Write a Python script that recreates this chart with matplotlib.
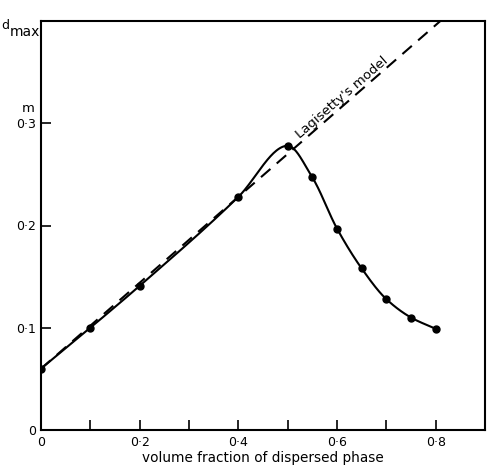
import numpy as np
import matplotlib
matplotlib.use("Agg")
import matplotlib.pyplot as plt

# measured points (volume fraction, d_max in m)
phi = [0.0, 0.1, 0.2, 0.4, 0.5, 0.55, 0.6, 0.65, 0.7, 0.75, 0.8]
dmax = [0.060, 0.100, 0.141, 0.228, 0.278, 0.247, 0.197, 0.158, 0.128, 0.110, 0.099]

# Lagisetty's model line (end points)
model_phi = [0.0, 0.9]
model_d = [0.060, 0.438]

xticks_major = [0.0, 0.2, 0.4, 0.6, 0.8]
xtick_labels = ["0", "0·2", "0·4", "0·6", "0·8"]
xticks_minor = [0.1, 0.3, 0.5, 0.7]
yticks = [0.0, 0.1, 0.2, 0.3]
ytick_labels = ["0", "0·1", "0·2", "0·3"]


def pchip(x, y, n=400):
    # monotone cubic through the points, just for drawing the smooth curve
    x = np.asarray(x, float)
    y = np.asarray(y, float)
    h = np.diff(x)
    d = np.diff(y) / h
    m = np.zeros_like(y)
    for i in range(1, len(x) - 1):
        if d[i - 1] * d[i] > 0:
            w1 = 2 * h[i] + h[i - 1]
            w2 = h[i] + 2 * h[i - 1]
            m[i] = (w1 + w2) / (w1 / d[i - 1] + w2 / d[i])
    m[0] = d[0]
    m[-1] = d[-1]
    xs = np.linspace(x[0], x[-1], n)
    idx = np.clip(np.searchsorted(x, xs) - 1, 0, len(x) - 2)
    hh = h[idx]
    t = (xs - x[idx]) / hh
    h00 = 2 * t ** 3 - 3 * t ** 2 + 1
    h10 = t ** 3 - 2 * t ** 2 + t
    h01 = -2 * t ** 3 + 3 * t ** 2
    h11 = t ** 3 - t ** 2
    ys = h00 * y[idx] + h10 * hh * m[idx] + h01 * y[idx + 1] + h11 * hh * m[idx + 1]
    return xs, ys


fig = plt.figure(figsize=(4.87, 4.70), dpi=100)
ax = fig.add_axes([41 / 487, 40 / 470, 444 / 487, 409 / 470])

xs, ys = pchip(phi, dmax)
ax.plot(xs, ys, color="black", lw=1.5)
ax.plot(phi, dmax, "o", color="black", ms=5)
ax.plot(model_phi, model_d, color="black", lw=1.5, dashes=(6, 4))

ax.set_xlim(0, 0.9)
ax.set_ylim(0, 0.4)

ax.set_xticks(xticks_major)
ax.set_xticklabels(xtick_labels)
ax.set_xticks(xticks_minor, minor=True)
ax.set_yticks(yticks)
ax.set_yticklabels(ytick_labels)
ax.tick_params(which="both", direction="in", length=7, width=1.2, labelsize=9)
ax.tick_params(axis="x", pad=4)
for s in ax.spines.values():
    s.set_linewidth(1.5)

ax.set_xlabel("volume fraction of dispersed phase", fontsize=9.8, labelpad=2)

fig.text(5.5 / 487, 1 - 25.5 / 470, "d", fontsize=9, va="center", ha="center")
fig.text(24.5 / 487, 1 - 32.5 / 470, "max", fontsize=10, va="center", ha="center")
fig.text(28 / 487, 1 - 108.5 / 470, "m", fontsize=9.5, va="center", ha="center")

ax.text(0.61, 0.325, "Lagisetty's model", rotation=41, fontsize=9.5,
        ha="center", va="center", rotation_mode="anchor")

fig.savefig("out.png", dpi=100)
